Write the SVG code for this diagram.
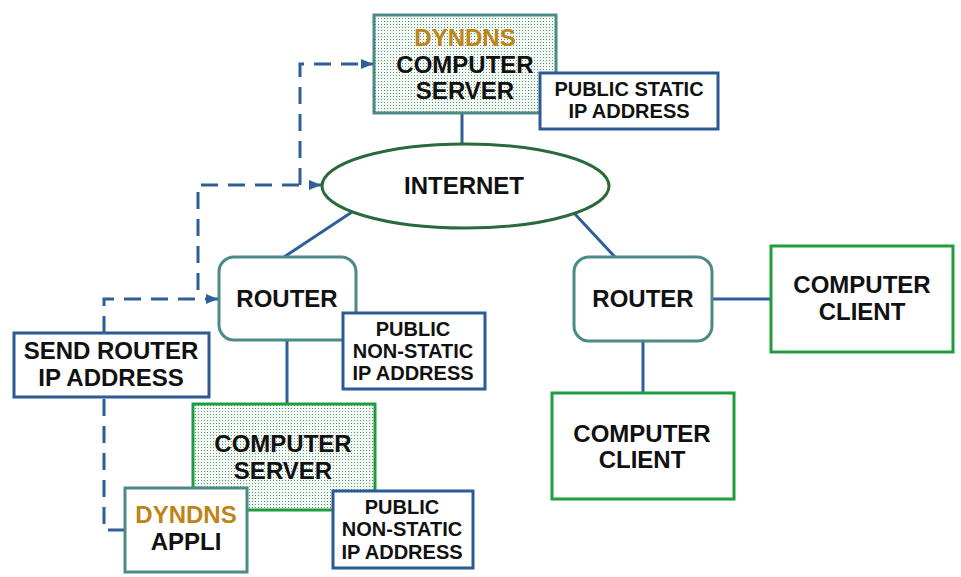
<svg xmlns="http://www.w3.org/2000/svg" width="961" height="577" viewBox="0 0 961 577">
<style>
text{font-family:"Liberation Sans",Arial,sans-serif;font-weight:bold;fill:#111;text-anchor:middle}
.t22{font-size:24px}
.t19{font-size:20px}
.dyn{fill:#bf8418}
.teal{fill:#fff;stroke:#4b8a86;stroke-width:3}
.dots{fill:url(#dots);stroke:#4b8a86;stroke-width:3}
.dotsg{fill:url(#dots);stroke:#1f9e3f;stroke-width:3}
.green{fill:#fff;stroke:#1f9e3f;stroke-width:3}
.blue{fill:#fff;stroke:#2b5b95;stroke-width:3}
.line{fill:none;stroke:#2e5f99;stroke-width:3}
.dash{fill:none;stroke:#2e5f99;stroke-width:3;stroke-dasharray:17 10}
</style>
<defs>
<pattern id="dots" width="3" height="3" patternUnits="userSpaceOnUse">
<rect width="3" height="3" fill="#f4f8f5"/>
<rect width="1" height="1" fill="#5a9a70"/>
</pattern>
<marker id="arr" viewBox="0 0 12 10" refX="12" refY="5" markerWidth="12" markerHeight="10" markerUnits="userSpaceOnUse" orient="auto">
<path d="M0,0 L12,5 L0,10 Z" fill="#2e5f99"/>
</marker>
</defs>
<g id="connectors">
<line class="line" x1="462" y1="113" x2="462" y2="145"/>
<line class="line" x1="352" y1="212" x2="284" y2="257"/>
<line class="line" x1="573" y1="212" x2="615" y2="257"/>
<line class="line" x1="287" y1="341" x2="287" y2="404"/>
<line class="line" x1="712" y1="299" x2="771" y2="299"/>
<line class="line" x1="643" y1="341" x2="643" y2="393"/>
<path class="dash" d="M125,530 L104,530 L104,397"/>
<path class="dash" d="M104,333 L104,299 L218,299" marker-end="url(#arr)"/>
<path class="dash" d="M198,290 L198,185 L321,185" marker-end="url(#arr)"/>
<path class="dash" d="M300,185 L300,64 L373,64" marker-end="url(#arr)"/>
</g>
<g id="dyndns-server">
<rect class="dots" x="374" y="15" width="182" height="98"/>
<text class="t22 dyn" x="465" y="46">DYNDNS</text>
<text class="t22" x="465" y="73">COMPUTER</text>
<text class="t22" x="465" y="99">SERVER</text>
</g>
<g id="public-static">
<rect class="blue" x="540" y="73" width="178" height="56"/>
<text class="t19" x="629" y="96">PUBLIC STATIC</text>
<text class="t19" x="629" y="118">IP ADDRESS</text>
</g>
<g id="internet">
<ellipse cx="465.5" cy="186" rx="143.5" ry="42" fill="#fff" stroke="#2a6a3a" stroke-width="3"/>
<text class="t22" x="464" y="194">INTERNET</text>
</g>
<g id="router-left">
<rect class="teal" x="219" y="257" width="137" height="83" rx="15"/>
<text class="t22" x="287" y="307">ROUTER</text>
</g>
<g id="public-nonstatic-1">
<rect class="blue" x="343" y="313" width="142" height="76"/>
<text class="t19" x="413" y="336">PUBLIC</text>
<text class="t19" x="413" y="358">NON-STATIC</text>
<text class="t19" x="413" y="380">IP ADDRESS</text>
</g>
<g id="send-router">
<rect class="blue" x="14" y="333" width="195" height="64"/>
<text class="t22" x="111" y="359">SEND ROUTER</text>
<text class="t22" x="111" y="386">IP ADDRESS</text>
</g>
<g id="computer-server">
<rect class="dotsg" x="193" y="404" width="182" height="106"/>
<text class="t22" x="283" y="452">COMPUTER</text>
<text class="t22" x="283" y="479">SERVER</text>
</g>
<g id="dyndns-appli">
<rect class="teal" x="125" y="488" width="122" height="84"/>
<text class="t22 dyn" x="186" y="523">DYNDNS</text>
<text class="t22" x="186" y="550">APPLI</text>
</g>
<g id="public-nonstatic-2">
<rect class="blue" x="333" y="491" width="140" height="77"/>
<text class="t19" x="402" y="514">PUBLIC</text>
<text class="t19" x="402" y="536">NON-STATIC</text>
<text class="t19" x="402" y="559">IP ADDRESS</text>
</g>
<g id="router-right">
<rect class="teal" x="574" y="257" width="138" height="84" rx="15"/>
<text class="t22" x="643" y="307">ROUTER</text>
</g>
<g id="client-right">
<rect class="green" x="771" y="246" width="182" height="106"/>
<text class="t22" x="862" y="293">COMPUTER</text>
<text class="t22" x="862" y="320">CLIENT</text>
</g>
<g id="client-bottom">
<rect class="green" x="552" y="393" width="182" height="106"/>
<text class="t22" x="642" y="442">COMPUTER</text>
<text class="t22" x="642" y="468">CLIENT</text>
</g>
</svg>
